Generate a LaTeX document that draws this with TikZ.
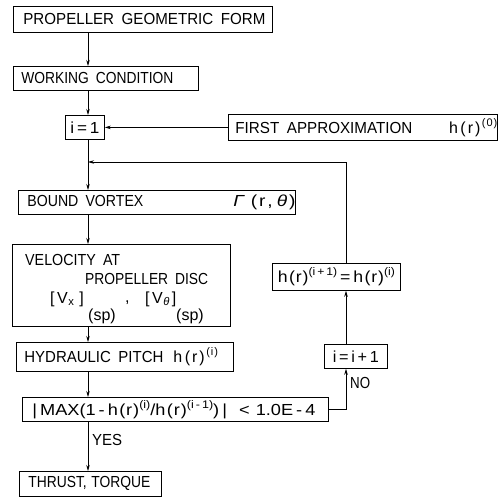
\documentclass[tikz,border=0pt]{standalone}
\usepackage{fontspec}
\setmainfont{Liberation Sans}
\usetikzlibrary{arrows.meta}
\newcommand\sps[1]{\raisebox{0.85ex}{\fontsize{11}{11}\selectfont #1}}
\newcommand\hr{h\kern1.2pt(\kern0.8pt r\kern0.8pt)}
\newcommand\hrw{h\kern2.5pt(\kern2pt r\kern2pt)}
\newcommand\fitw[2]{\resizebox{#1pt}{\height}{#2}}
\newcommand\wsp{\hspace{0.5em}}
\begin{document}
\begin{tikzpicture}[x=1pt,y=-1pt,
  every node/.style={font=\fontsize{16}{18}\selectfont},
  box/.style={draw,line width=0.8pt,anchor=north west,inner xsep=0pt,inner ysep=0pt,align=left},
  lbl/.style={anchor=west,inner sep=0pt},
  arr/.style={line width=0.7pt,-{Stealth[length=6pt,width=3.5pt]}}]
\path[use as bounding box] (0,0) rectangle (501,500);
\coordinate (trunk) at (88,0);
\coordinate (rx) at (346,0);
% boxes
\node[box,minimum width=259pt,minimum height=26pt,text width=259pt] (geo) at (13,6)
  {\hspace*{10pt}\fitw{242}{PROPELLER\wsp GEOMETRIC\wsp FORM}};
\node[box,minimum width=185pt,minimum height=24pt,text width=185pt] (work) at (13,66)
  {\hspace*{8pt}\fitw{152}{WORKING\wsp CONDITION}};
\node[box,minimum width=39pt,minimum height=24pt,align=center] (i1) at (65,115)
  {\fitw{29}{i\,=\,1}};
\node[box,minimum width=269pt,minimum height=26pt,text width=269pt] (first) at (228,114)
  {\hspace*{7pt}\fitw{177}{FIRST\wsp APPROXIMATION}\hfill\hrw\kern1.5pt\sps{(\kern1pt 0\kern1pt)}\hspace*{6pt}};
\node[box,minimum width=277pt,minimum height=24pt,text width=277pt] (bound) at (18,190)
  {\hspace*{9pt}\fitw{116}{BOUND\wsp VORTEX}\hfill\fitw{62}{\textit{Γ}\kern5pt(\kern1.5pt r\kern1.5pt,\kern3.5pt\textit{θ}\kern1.5pt)}\hspace*{8pt}};
\node[box,minimum width=218pt,minimum height=82pt] (vel) at (12,244) {};
\node[box,minimum width=217pt,minimum height=29pt,text width=217pt] (hyd) at (16,342)
  {\hspace*{8pt}\fitw{139}{HYDRAULIC\wsp PITCH}\hspace*{10pt}\hrw\kern1.5pt\sps{(\kern1pt i\kern1pt)}};
\node[box,minimum width=306pt,minimum height=24pt,text width=306pt] (cond) at (22,397)
  {\hspace*{10pt}\fitw{283}{|\,MAX(1\,-\,\hr\sps{(i)}/\hr\sps{(i\,-\,1)})\,|\ \ <\ 1.0E\,-\,4}};
\node[box,minimum width=142pt,minimum height=25pt,text width=142pt] (thrust) at (19,471)
  {\hspace*{9pt}\fitw{122}{THRUST,\ TORQUE}};
\node[box,minimum width=63pt,minimum height=24pt,align=center] (inc) at (324,344)
  {\fitw{46}{i\,=\,i\,+\,1}};
\node[box,minimum width=128pt,minimum height=27pt,align=center] (hupd) at (272,263)
  {\fitw{117}{\hr\sps{(i\,+\,1)}\,=\,\hr\sps{(i)}}};
% velocity box text
\node[lbl] (v1) at (25,260) {\fitw{95}{VELOCITY\wsp AT}};
\node[lbl] (v2) at (85,279) {\fitw{123}{PROPELLER\wsp DISC}};
\node[lbl] (v3) at (50,299) {[\kern2.5pt V\kern0.5pt\textsubscript{x}\kern5pt]};
\node[lbl] (v4) at (88,316) {(sp)};
\node[lbl] (v5) at (125,303) {,};
\node[lbl] (v6) at (145,299) {[\kern2.5pt V\kern0.5pt\textsubscript{\textit{θ}}\kern2pt]};
\node[lbl] (v7) at (176,316) {(sp)};
% connectors
\draw[arr] (geo.south -| trunk) -- (work.north -| trunk);
\draw[arr] (work.south -| trunk) -- (i1.north -| trunk);
\draw[arr] (first.west) -- (i1.east);
\draw[arr] (i1.south -| trunk) -- (bound.north -| trunk);
\draw[arr] (bound.south -| trunk) -- (vel.north -| trunk);
\draw[arr] (vel.south -| trunk) -- (hyd.north -| trunk);
\draw[arr] (hyd.south -| trunk) -- (cond.north -| trunk);
\draw[arr] (cond.south -| trunk) -- (thrust.north -| trunk);
\node[lbl] (yes) at (92,440) {\fitw{30}{YES}};
\coordinate (loopj) at (88,162);
\draw[arr] (hupd.north -| rx) |- (loopj);
\draw[arr] (cond.east) -| (inc.south -| rx);
\draw[arr] (inc.north -| rx) -- (hupd.south -| rx);
\node[lbl] (no) at (350,383) {\fitw{20}{NO}};
\end{tikzpicture}
\end{document}
